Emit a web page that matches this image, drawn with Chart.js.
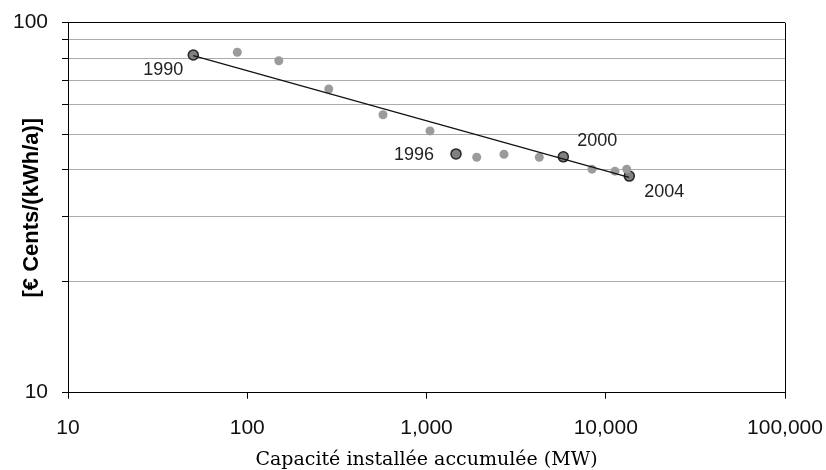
<!DOCTYPE html>
<html>
<head>
<meta charset="utf-8">
<script src="https://cdn.jsdelivr.net/npm/chart.js@4.4.1/dist/chart.umd.min.js"></script>
<style>
  html, body { margin: 0; padding: 0; background: #fff; }
  #wrap { width: 826px; height: 470px; }
</style>
</head>
<body>
<div id="wrap"><canvas id="chart" width="826" height="470"></canvas></div>
<script>
// data
const years    = [1990, 1991, 1992, 1993, 1994, 1995, 1996, 1997, 1998, 1999, 2000, 2001, 2002, 2003, 2004];
const capacity = [50, 88, 150, 285, 572, 1046, 1461, 1906, 2706, 4259, 5798, 8381, 11260, 13090, 13530];
const cost     = [81.8, 83.2, 78.9, 66.2, 56.4, 51.0, 44.2, 43.3, 44.1, 43.3, 43.4, 40.2, 39.7, 40.2, 38.5];
const labelledYears = [1990, 1996, 2000, 2004];

// fitted line (end points)
const trendX = [50, 13500];
const trendY = [81.5, 38.2];

const xTicks = [10, 100, 1000, 10000, 100000];
const yTicks = [10, 20, 30, 40, 50, 60, 70, 80, 90, 100];

// where each year label sits relative to its point (px)
const labelOffsets = { 1990: [-30, 15], 1996: [-42, 1], 2000: [34, -16], 2004: [35, 16] };

const otherPts = [];
const keyPts = [];
years.forEach((yr, i) => {
    const p = { x: capacity[i], y: cost[i], year: yr };
    if (labelledYears.includes(yr)) keyPts.push(p); else otherPts.push(p);
});

const yearLabels = {
    id: 'yearLabels',
    afterDatasetsDraw(chart) {
        const meta = chart.getDatasetMeta(2);
        const ctx = chart.ctx;
        ctx.save();
        ctx.font = '18px "Liberation Sans", Arial, sans-serif';
        ctx.fillStyle = '#222';
        ctx.textAlign = 'center';
        ctx.textBaseline = 'middle';
        meta.data.forEach((pt, i) => {
            const yr = keyPts[i].year;
            const off = labelOffsets[yr];
            ctx.fillText(String(yr), pt.x + off[0], pt.y + off[1]);
        });
        ctx.restore();
    }
};

const tickFont = { family: '"Liberation Sans", Arial, sans-serif', size: 21 };

new Chart(document.getElementById('chart'), {
    type: 'scatter',
    data: {
        datasets: [
            {
                data: trendX.map((x, i) => ({ x: x, y: trendY[i] })),
                showLine: true,
                borderColor: '#111',
                borderWidth: 1.2,
                pointRadius: 0
            },
            {
                data: otherPts,
                backgroundColor: '#9b9b9b',
                borderWidth: 0,
                pointRadius: 4.5
            },
            {
                data: keyPts,
                backgroundColor: '#808080',
                borderColor: '#262626',
                borderWidth: 1.5,
                pointRadius: 5
            }
        ]
    },
    options: {
        responsive: false,
        animation: false,
        events: [],
        layout: { padding: { top: 22.7, right: 41, left: 0, bottom: 0 } },
        plugins: {
            legend: { display: false },
            tooltip: { enabled: false }
        },
        scales: {
            x: {
                type: 'logarithmic',
                min: 10,
                max: 100000,
                afterBuildTicks: s => { s.ticks = xTicks.map(v => ({ value: v })); },
                afterFit: s => {
                    s.height = 77.3;
                    s.paddingLeft = 0;
                    s.paddingRight = 0;
                },
                ticks: {
                    autoSkip: false,
                    maxRotation: 0,
                    padding: 17,
                    color: '#111',
                    font: tickFont,
                    callback: v => v.toLocaleString('en-US')
                },
                grid: {
                    tickLength: 6,
                    color: c => c.tick && c.tick.value === 100000 ? '#000' : 'rgba(0,0,0,0)',
                    tickColor: '#000',
                    lineWidth: 1
                },
                border: { color: '#000', width: 1 },
                title: {
                    display: true,
                    text: 'Capacité installée accumulée (MW)',
                    color: '#000',
                    font: { family: '"DejaVu Serif", serif', size: 19, lineHeight: 1 },
                    padding: { top: 0, bottom: 0 }
                }
            },
            y: {
                type: 'logarithmic',
                min: 10,
                max: 100,
                afterBuildTicks: s => { s.ticks = yTicks.map(v => ({ value: v })); },
                afterFit: s => {
                    s.width = 68;
                    s.paddingTop = 0;
                    s.paddingBottom = 0;
                },
                ticks: {
                    autoSkip: false,
                    padding: 14,
                    color: '#111',
                    font: tickFont,
                    callback: v => (v === 10 || v === 100) ? String(v) : ''
                },
                grid: {
                    tickLength: 6,
                    color: c => {
                        if (!c.tick) return 'rgba(0,0,0,0)';
                        if (c.tick.value === 100) return '#000';
                        if (c.tick.value === 10) return 'rgba(0,0,0,0)';
                        return '#ababab';
                    },
                    tickColor: '#000',
                    lineWidth: 1
                },
                border: { color: '#000', width: 1 },
                title: {
                    display: true,
                    text: '[€ Cents/(kWh/a)]',
                    color: '#000',
                    font: { family: '"Liberation Sans", Arial, sans-serif', size: 22, weight: 'bold', lineHeight: 1.2 },
                    padding: { top: 19, bottom: 0 }
                }
            }
        }
    },
    plugins: [yearLabels]
});
</script>
</body>
</html>
